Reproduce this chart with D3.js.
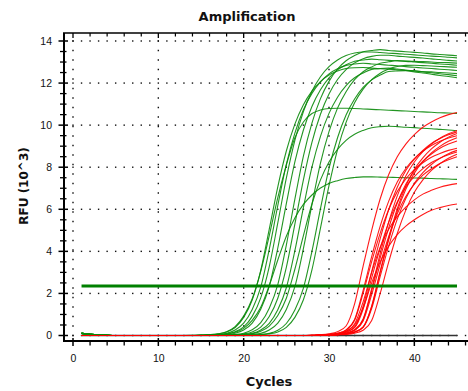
<!DOCTYPE html>
<html>
<head>
<meta charset="utf-8">
<script src="https://cdn.jsdelivr.net/npm/d3@7"></script>
<style>
  html, body { margin: 0; padding: 0; background: #fff; }
  svg { display: block; }
</style>
</head>
<body>
<svg id="chart" width="468" height="391"></svg>
<script>
// Amplification plot: RFU (x10^3) per cycle for each well.
const cycles = [1,2,3,4,5,6,7,8,9,10,11,12,13,14,15,16,17,18,19,20,21,22,23,24,25,26,27,28,29,30,31,32,33,34,35,36,37,38,39,40,41,42,43,44,45];

// Green channel wells (RFU x10^3, cycles 1..45)
const greenWells = [
  [.1,.06,.03,.01,0,0,0,0,0,0,0,0,0,0,.02,.04,.08,.17,.38,.86,1.69,3.10,5.06,7.07,8.77,10.05,10.97,11.62,12.07,12.38,12.57,12.69,12.73,12.74,12.71,12.68,12.66,12.63,12.60,12.58,12.55,12.53,12.50,12.48,12.45],
  [.1,.06,.03,.01,0,0,0,0,0,0,0,0,0,0,.01,.03,.05,.10,.26,.59,1.24,2.30,4.10,6.18,8.13,9.62,10.73,11.51,12.06,12.44,12.68,12.84,12.91,12.94,12.91,12.88,12.85,12.82,12.78,12.75,12.72,12.69,12.66,12.63,12.60],
  [.1,.06,.03,.01,0,0,0,0,0,0,0,0,0,0,0,.02,.04,.08,.18,.41,.91,1.79,3.28,5.35,7.48,9.28,10.64,11.61,12.30,12.78,13.10,13.31,13.43,13.48,13.48,13.45,13.42,13.40,13.37,13.34,13.31,13.28,13.26,13.23,13.20],
  [.1,.06,.03,.01,0,0,0,0,0,0,0,0,0,0,0,.01,.03,.05,.11,.26,.59,1.25,2.34,4.16,6.27,8.25,9.77,10.89,11.68,12.25,12.63,12.87,13.04,13.10,13.14,13.11,13.08,13.05,13.03,13.00,12.97,12.94,12.91,12.88,12.85],
  [.1,.06,.03,.01,0,0,0,0,0,0,0,0,0,0,0,0,.01,.03,.05,.11,.27,.61,1.30,2.42,4.30,6.48,8.53,10.10,11.26,12.08,12.67,13.06,13.31,13.49,13.55,13.59,13.55,13.52,13.49,13.46,13.43,13.39,13.36,13.33,13.30],
  [.1,.06,.03,.01,0,0,0,0,0,0,0,0,0,0,0,0,0,.02,.04,.08,.17,.40,.90,1.77,3.24,5.29,7.40,9.18,10.52,11.48,12.17,12.64,12.96,13.16,13.27,13.32,13.32,13.28,13.25,13.22,13.19,13.15,13.12,13.08,13.05],
  [.1,.06,.03,.01,0,0,0,0,0,0,0,0,0,0,0,0,0,.01,.03,.05,.10,.26,.58,1.22,2.27,4.03,6.08,8.00,9.47,10.56,11.33,11.88,12.25,12.48,12.65,12.69,12.71,12.67,12.62,12.58,12.53,12.49,12.44,12.40,12.35],
  [.1,.06,.03,.01,0,0,0,0,0,0,0,0,0,0,0,0,0,0,.01,.03,.05,.10,.26,.59,1.24,2.32,4.13,6.22,8.19,9.69,10.81,11.59,12.16,12.54,12.77,12.94,13.01,13.07,13.05,13.03,13.02,13.00,12.98,12.97,12.95],
  [.1,.06,.03,.01,0,0,0,0,0,0,0,0,0,0,0,0,0,0,0,.01,.03,.05,.10,.25,.57,1.21,2.25,4.00,6.03,7.94,9.40,10.48,11.24,11.79,12.15,12.38,12.55,12.58,12.59,12.53,12.48,12.42,12.36,12.31,12.25],
  [.1,.06,.03,.01,0,0,0,0,0,0,0,0,0,0,0,0,0,0,0,0,.02,.04,.08,.17,.39,.86,1.70,3.12,5.10,7.12,8.84,10.13,11.06,11.71,12.16,12.47,12.67,12.79,12.84,12.85,12.83,12.81,12.79,12.77,12.75],
  [.1,.06,.03,.01,0,0,0,0,0,0,0,0,0,.01,.02,.04,.08,.18,.42,.92,1.75,3.05,4.75,6.55,8.10,9.40,10.15,10.55,10.72,10.79,10.80,10.80,10.79,10.77,10.75,10.73,10.71,10.69,10.67,10.65,10.63,10.61,10.59,10.58,10.56],
  [.1,.06,.03,.01,0,0,0,0,0,0,0,0,0,0,0,0,0,.01,.02,.04,.08,.20,.45,.95,1.77,3.15,4.75,6.25,7.40,8.25,8.85,9.28,9.57,9.75,9.88,9.93,9.95,9.93,9.90,9.88,9.85,9.83,9.80,9.77,9.73],
  [.1,.06,.03,.01,0,0,0,0,0,0,0,0,0,0,.01,.02,.03,.06,.15,.34,.72,1.34,2.38,3.59,4.72,5.59,6.23,6.68,7.01,7.23,7.36,7.46,7.51,7.54,7.54,7.53,7.52,7.51,7.50,7.49,7.48,7.46,7.45,7.44,7.42]
];

// Red channel wells (RFU x10^3, cycles 1..45)
const redWells = [
  [0,0,0,0,0,0,0,0,0,0,0,0,0,0,0,0,0,0,0,0,0,0,0,0,0,0,0,.02,.04,.08,.18,.45,1.50,3.30,5.00,6.50,7.65,8.50,9.10,9.55,9.90,10.15,10.35,10.50,10.60],
  [0,0,0,0,0,0,0,0,0,0,0,0,0,0,0,0,0,0,0,0,0,0,0,0,0,0,0,0,.01,.03,.06,.12,.28,.79,2.23,3.89,5.40,6.64,7.58,8.25,8.74,9.10,9.38,9.59,9.75],
  [0,0,0,0,0,0,0,0,0,0,0,0,0,0,0,0,0,0,0,0,0,0,0,0,0,0,0,0,.02,.04,.08,.17,.41,1.39,3.04,4.61,5.99,7.05,7.84,8.38,8.80,9.13,9.36,9.54,9.68],
  [0,0,0,0,0,0,0,0,0,0,0,0,0,0,0,0,0,0,0,0,0,0,0,0,0,0,0,0,0,.02,.04,.08,.17,.41,1.40,3.06,4.64,6.03,7.10,7.89,8.44,8.87,9.19,9.43,9.60],
  [0,0,0,0,0,0,0,0,0,0,0,0,0,0,0,0,0,0,0,0,0,0,0,0,0,0,0,.01,.03,.06,.11,.27,.76,2.15,3.75,5.20,6.39,7.30,7.94,8.41,8.76,9.03,9.23,9.39,9.50],
  [0,0,0,0,0,0,0,0,0,0,0,0,0,0,0,0,0,0,0,0,0,0,0,0,0,0,0,0,0,.02,.04,.08,.16,.40,1.37,3.00,4.55,5.90,6.95,7.72,8.26,8.68,8.99,9.23,9.40],
  [0,0,0,0,0,0,0,0,0,0,0,0,0,0,0,0,0,0,0,0,0,0,0,0,0,0,0,0,.01,.03,.06,.11,.26,.75,2.12,3.69,5.12,6.30,7.19,7.82,8.29,8.63,8.90,9.10,9.25],
  [0,0,0,0,0,0,0,0,0,0,0,0,0,0,0,0,0,0,0,0,0,0,0,0,0,0,0,.01,.03,.05,.11,.25,.72,2.01,3.51,4.87,5.99,6.84,7.44,7.89,8.21,8.47,8.65,8.80,8.90],
  [0,0,0,0,0,0,0,0,0,0,0,0,0,0,0,0,0,0,0,0,0,0,0,0,0,0,0,0,0,.02,.04,.07,.15,.38,1.28,2.81,4.26,5.53,6.51,7.23,7.74,8.13,8.42,8.64,8.80],
  [0,0,0,0,0,0,0,0,0,0,0,0,0,0,0,0,0,0,0,0,0,0,0,0,0,0,0,0,.02,.04,.07,.15,.37,1.25,2.74,4.15,5.39,6.35,7.06,7.55,7.93,8.22,8.43,8.59,8.72],
  [0,0,0,0,0,0,0,0,0,0,0,0,0,0,0,0,0,0,0,0,0,0,0,0,0,0,0,0,0,.01,.03,.05,.11,.25,.71,2.00,3.50,4.85,5.96,6.81,7.40,7.85,8.17,8.43,8.62],
  [0,0,0,0,0,0,0,0,0,0,0,0,0,0,0,0,0,0,0,0,0,0,0,0,0,0,0,0,.01,.03,.05,.10,.24,.69,1.94,3.40,4.71,5.79,6.61,7.19,7.62,7.93,8.18,8.36,8.50],
  [0,0,0,0,0,0,0,0,0,0,0,0,0,0,0,0,0,0,0,0,0,0,0,0,0,0,0,0,.02,.04,.08,.20,.55,1.60,3.00,4.20,5.05,5.65,6.10,6.45,6.72,6.90,7.05,7.15,7.22],
  [0,0,0,0,0,0,0,0,0,0,0,0,0,0,0,0,0,0,0,0,0,0,0,0,0,0,0,0,.02,.04,.08,.20,.50,1.30,2.50,3.50,4.25,4.80,5.20,5.50,5.75,5.95,6.08,6.18,6.25]
];

// No-template control
const ntcWell = [0,0,0,0,0,0,0,0,0,0,0,0,0,0,0,0,0,0,0,0,0,0,0,0,0,0,0,0,0,0,0,0,0,0,0,0,0,0,0,0,0,0,0,0,0];

// Threshold level (RFU x10^3) and its cycle span
const threshold = 2.35;
const thresholdSpan = [1, 45];

// Axis ticks
const xTicks = [0, 10, 20, 30, 40];
const xMinorTicks = [2,4,6,8,12,14,16,18,22,24,26,28,32,34,36,38,42,44,46];
const yTicks = [0, 2, 4, 6, 8, 10, 12, 14];
const yMinorTicks = [0.5,1,1.5,2.5,3,3.5,4.5,5,5.5,6.5,7,7.5,8.5,9,9.5,10.5,11,11.5,12.5,13,13.5];
const gridCycles = [0,1,2,3,4,5,6,7,8,9,10,11,12,13,14,15,16,17,18,19,20,21,22,23,24,25,26,27,28,29,30,31,32,33,34,35,36,37,38,39,40,41,42,43,44,45,46];

const svg = d3.select("#chart");
const frame = { left: 64, right: 468, top: 33, bottom: 341 };

const x = d3.scaleLinear().domain([0, 45]).range([73, 457]);
const y = d3.scaleLinear().domain([0, 14]).range([335.5, 41]);

// Dotted grid: one dot per cycle along rows, fine dots up the columns
const grid = svg.append("g").attr("fill", "#111");
yTicks.forEach(v => {
  grid.selectAll(null).data(gridCycles).join("rect")
    .attr("x", c => x(c) - 0.7).attr("y", y(v) - 0.7)
    .attr("width", 1.4).attr("height", 1.4);
});
svg.append("g").selectAll("line").data(xTicks).join("line")
  .attr("x1", d => x(d)).attr("x2", d => x(d))
  .attr("y1", y(0) + 0.7).attr("y2", frame.top + 2)
  .attr("stroke", "#111").attr("stroke-width", 1.4)
  .attr("stroke-dasharray", "1.4 8.1");

// Curves
const line = d3.line()
  .x((d, i) => x(cycles[i]))
  .y(d => y(d))
  .curve(d3.curveMonotoneX);

const plot = svg.append("g").attr("fill", "none").attr("stroke-linejoin", "round");
plot.append("path").datum(ntcWell).attr("d", line)
  .attr("stroke", "#333").attr("stroke-width", 1.3);
plot.selectAll(".green").data(greenWells).join("path")
  .attr("class", "green").attr("d", line)
  .attr("stroke", "#0a8a0a").attr("stroke-width", 1.1).attr("stroke-opacity", 0.9);
plot.selectAll(".red").data(redWells).join("path")
  .attr("class", "red").attr("d", line)
  .attr("stroke", "#ff0000").attr("stroke-width", 1.1).attr("stroke-opacity", 0.9);

// Threshold line
svg.append("line")
  .attr("x1", x(thresholdSpan[0])).attr("x2", x(thresholdSpan[1]))
  .attr("y1", y(threshold)).attr("y2", y(threshold))
  .attr("stroke", "#008000").attr("stroke-width", 3);

// Frame lines
const axisG = svg.append("g").attr("stroke", "#000");
axisG.append("line").attr("x1", frame.left).attr("x2", frame.left)
  .attr("y1", frame.top).attr("y2", frame.bottom + 1).attr("stroke-width", 2);
axisG.append("line").attr("x1", frame.left - 1).attr("x2", frame.right)
  .attr("y1", frame.bottom).attr("y2", frame.bottom).attr("stroke-width", 2);
axisG.append("line").attr("x1", frame.left - 1).attr("x2", frame.right)
  .attr("y1", frame.top).attr("y2", frame.top).attr("stroke-width", 1.6);

// Tick marks
axisG.selectAll(".xmaj").data(xTicks).join("line").attr("class", "xmaj")
  .attr("x1", d => x(d)).attr("x2", d => x(d))
  .attr("y1", frame.bottom - 3).attr("y2", frame.bottom + 5).attr("stroke-width", 1.5);
axisG.selectAll(".xmin").data(xMinorTicks).join("line").attr("class", "xmin")
  .attr("x1", d => x(d)).attr("x2", d => x(d))
  .attr("y1", frame.bottom).attr("y2", frame.bottom + 4.5).attr("stroke-width", 1.3);
axisG.selectAll(".tmaj").data(xTicks).join("line").attr("class", "tmaj")
  .attr("x1", d => x(d)).attr("x2", d => x(d))
  .attr("y1", frame.top).attr("y2", frame.top + 5).attr("stroke-width", 1.3);
axisG.selectAll(".tmin").data(xMinorTicks).join("line").attr("class", "tmin")
  .attr("x1", d => x(d)).attr("x2", d => x(d))
  .attr("y1", frame.top).attr("y2", frame.top + 3.5).attr("stroke-width", 1.2);
axisG.selectAll(".ymaj").data(yTicks).join("line").attr("class", "ymaj")
  .attr("x1", frame.left - 5.5).attr("x2", frame.left + 4)
  .attr("y1", d => y(d)).attr("y2", d => y(d)).attr("stroke-width", 1.5);
axisG.selectAll(".ymin").data(yMinorTicks).join("line").attr("class", "ymin")
  .attr("x1", frame.left - 4).attr("x2", frame.left + 2.5)
  .attr("y1", d => y(d)).attr("y2", d => y(d)).attr("stroke-width", 1.3);

// Tick labels via d3 axes
const tickFont = "'Liberation Sans', Arial, sans-serif";
svg.append("g").attr("transform", `translate(0,${frame.bottom})`)
  .call(d3.axisBottom(x).tickValues(xTicks).tickSize(0).tickPadding(14).tickFormat(d3.format("d")))
  .call(g => g.select(".domain").remove())
  .call(g => g.selectAll("text").attr("fill", "#111")
    .style("font-family", tickFont).style("font-size", "10.5px"));
svg.append("g").attr("transform", `translate(${frame.left},0)`)
  .call(d3.axisLeft(y).tickValues(yTicks).tickSize(0).tickPadding(12).tickFormat(d3.format("d")))
  .call(g => g.select(".domain").remove())
  .call(g => g.selectAll("text").attr("fill", "#111")
    .style("font-family", tickFont).style("font-size", "10.5px"));

// Titles
const titleFont = "'DejaVu Sans', Verdana, sans-serif";
svg.append("text").attr("x", 247).attr("y", 20.5).attr("text-anchor", "middle")
  .style("font-family", titleFont).style("font-size", "13px").style("font-weight", "bold")
  .attr("fill", "#111").text("Amplification");
svg.append("text").attr("x", 269).attr("y", 386).attr("text-anchor", "middle")
  .style("font-family", titleFont).style("font-size", "13px").style("font-weight", "bold")
  .attr("fill", "#111").text("Cycles");
svg.append("text").attr("transform", "translate(28,186) rotate(-90)").attr("text-anchor", "middle")
  .style("font-family", titleFont).style("font-size", "12px").style("font-weight", "bold")
  .attr("fill", "#111").text("RFU (10^3)");
</script>
</body>
</html>
